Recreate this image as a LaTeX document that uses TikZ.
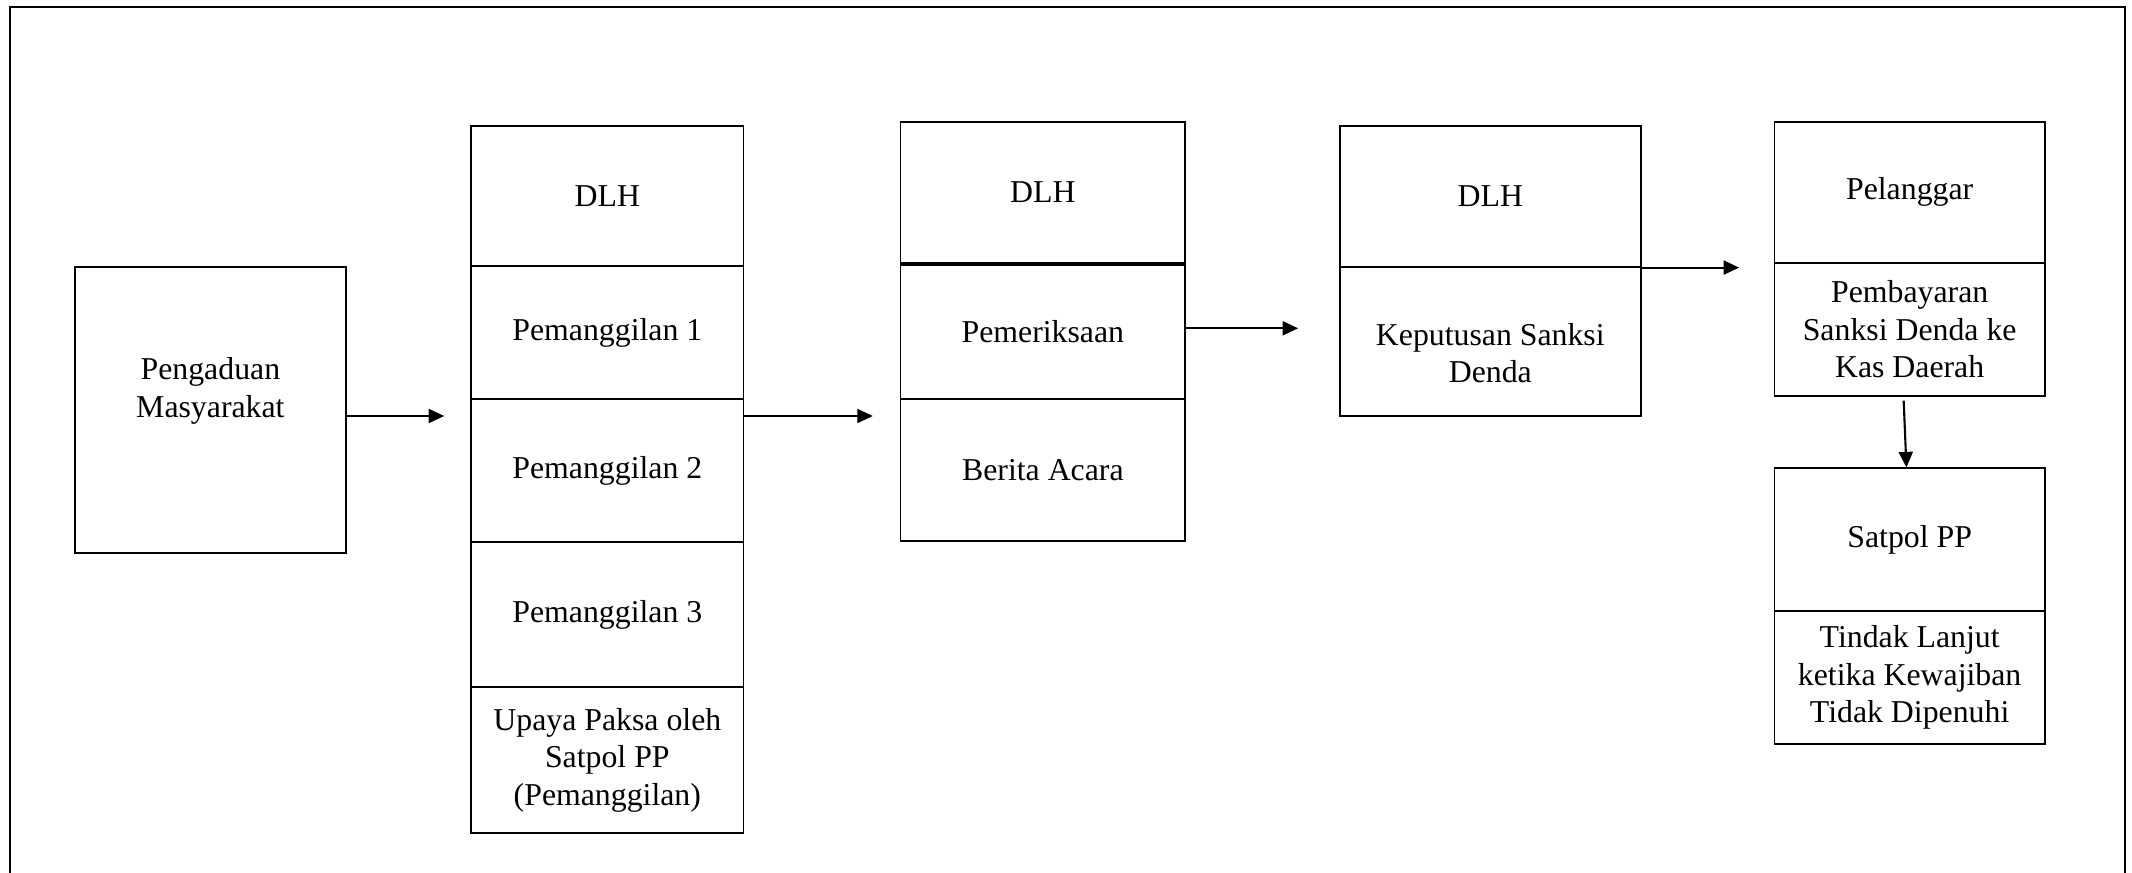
\documentclass[tikz,border=0pt]{standalone}
\usepackage{fontspec}
\setmainfont{Liberation Serif}
\usetikzlibrary{arrows.meta}
\begin{document}
\begin{tikzpicture}[x=0.5pt,y=-0.5pt,
  seg/.style={draw, line width=0.9pt, rectangle, inner sep=0pt, align=center, font=\fontsize{15.9}{18.75}\selectfont},
  txt/.style={inner sep=0pt, align=center, font=\fontsize{15.9}{18.75}\selectfont},
  arr/.style={line width=1.05pt, -{Triangle[length=7.75pt,width=7pt]}},
  frameline/.style={line width=0.9pt}]
\useasboundingbox (0,0) rectangle (2132,873);
\draw[frameline] (10.3,880) -- (10.3,7.3) -- (2125,7.3) -- (2125,880);

% column 1
\node[seg, minimum width=135.2pt, minimum height=143pt] (peng) at (210.4,409.7) {};
\node[txt] (pengt) at (210.4,391) {Pengaduan\\Masyarakat};

% column 2
\node[seg, minimum width=136.05pt, minimum height=70.3pt]  (c2a) at (607.35,196)    {DLH};
\node[seg, minimum width=136.05pt, minimum height=66.35pt] (c2b) at (607.35,332.65) {Pemanggilan 1};
\node[seg, minimum width=136.05pt, minimum height=71.65pt] (c2c) at (607.35,470.65) {Pemanggilan 2};
\node[seg, minimum width=136.05pt, minimum height=72.5pt]  (c2d) at (607.35,614.8)  {Pemanggilan 3};
\node[seg, minimum width=136.05pt, minimum height=72.7pt]  (c2e) at (607.35,760)    {Upaya Paksa oleh\\Satpol PP\\(Pemanggilan)};

% column 3
\node[seg, minimum width=142.35pt, minimum height=70.8pt]  (c3a) at (1042.85,192.5)  {DLH};
\node[seg, minimum width=142.35pt, minimum height=67.85pt] (c3b) at (1042.85,331.15) {Pemeriksaan};
\node[seg, minimum width=142.35pt, minimum height=70.85pt] (c3c) at (1042.85,469.85) {Berita Acara};
\draw[line width=1.6pt] (c3a.south west) -- (c3a.south east);

% column 4
\node[seg, minimum width=150.5pt, minimum height=70.5pt] (c4a) at (1490.3,196.2) {DLH};
\node[seg, minimum width=150.5pt, minimum height=74.5pt] (c4b) at (1490.3,341.2) {};
\node[txt] (c4t) at (1490.3,353) {Keputusan Sanksi\\Denda};

% column 5
\node[seg, minimum width=135.25pt, minimum height=70.5pt] (c5a) at (1909.65,192.2) {Pelanggar};
\node[seg, minimum width=135.25pt, minimum height=66.5pt] (c5b) at (1909.65,329.2) {Pembayaran\\Sanksi Denda ke\\Kas Daerah};

% column 6
\node[seg, minimum width=135.25pt, minimum height=71.35pt] (c6a) at (1909.65,539.65) {Satpol PP};
\node[seg, minimum width=135.25pt, minimum height=66.65pt] (c6b) at (1909.65,677.65) {Tindak Lanjut\\ketika Kewajiban\\Tidak Dipenuhi};

% connectors
\draw[arr, shorten >=13.1pt] (peng.east |- 0,416) -- (c2c.west |- 0,416);
\draw[arr, shorten >=13.4pt] (c2b.east |- 0,416) -- (c3c.west |- 0,416);
\draw[arr, shorten >=20.4pt] (c3b.east |- 0,328.3) -- (c4b.west |- 0,328.3);
\draw[arr, shorten >=17.2pt] (c4a.south east) -- (c5a.west |- c4a.south east);
\draw[arr] ([xshift=-3pt,yshift=-2pt]c5b.south) -- ([xshift=-1.6pt]c6a.north);
\end{tikzpicture}
\end{document}
